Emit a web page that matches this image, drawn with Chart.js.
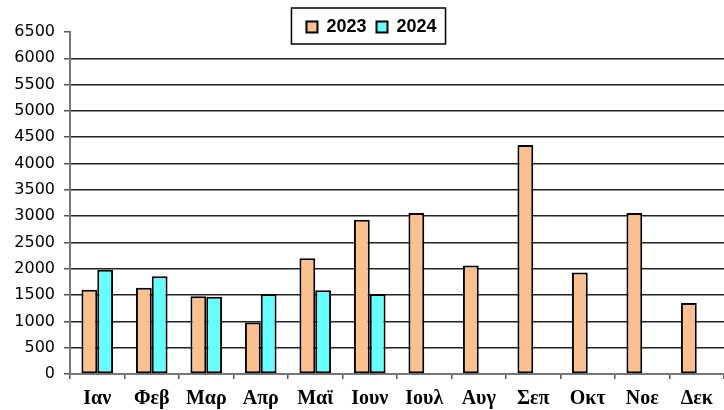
<!DOCTYPE html>
<html>
<head>
<meta charset="utf-8">
<script src="https://cdn.jsdelivr.net/npm/chart.js@4.4.1/dist/chart.umd.min.js"></script>
<style>
  html, body { margin: 0; padding: 0; background: #fff; }
  #wrap { width: 724px; height: 410px; position: relative; }
</style>
</head>
<body>
<div id="wrap"><canvas id="c"></canvas></div>
<script>
const months = ["Ιαν", "Φεβ", "Μαρ", "Απρ", "Μαϊ", "Ιουν", "Ιουλ", "Αυγ", "Σεπ", "Οκτ", "Νοε", "Δεκ"];
const values2023 = [1600, 1640, 1480, 980, 2200, 2930, 3060, 2060, 4350, 1930, 3060, 1350];
const values2024 = [1980, 1860, 1470, 1520, 1590, 1520, null, null, null, null, null, null];
const seriesNames = ["2023", "2024"];
const yMin = 0, yMax = 6500, yStep = 500;

const legendFrame = {
  id: 'legendFrame',
  afterLayout(chart) {
    const lg = chart.legend;
    lg.left = 288; lg.right = 455;
    lg.top = 8; lg.bottom = 44;
  },
  afterDraw(chart) {
    const hb = chart.legend.legendHitBoxes;
    if (!hb || !hb.length) return;
    const first = hb[0], last = hb[hb.length - 1];
    const ctx = chart.ctx;
    ctx.save();
    ctx.strokeStyle = '#000';
    ctx.lineWidth = 1.5;
    ctx.strokeRect(first.left - 15, first.top - 10, (last.left + last.width + 9) - (first.left - 15), first.height + 18);
    ctx.restore();
  }
};

new Chart(document.getElementById('c'), {
  type: 'bar',
  data: {
    labels: months,
    datasets: [
      { label: seriesNames[0], data: values2023, backgroundColor: '#FAC090', borderColor: '#000', borderWidth: 2, borderSkipped: false },
      { label: seriesNames[1], data: values2024, backgroundColor: '#66FFFF', borderColor: '#000', borderWidth: 2, borderSkipped: false }
    ]
  },
  options: {
    responsive: true,
    maintainAspectRatio: false,
    animation: false,
    datasets: { bar: { categoryPercentage: 0.58, barPercentage: 1.0 } },
    layout: { padding: { top: 0, left: 0, right: 0, bottom: 0 } },
    plugins: {
      legend: {
        position: 'top',
        align: 'center',
        maxHeight: 32,
        labels: {
          boxWidth: 11, boxHeight: 11, padding: 10,
          color: '#000',
          font: { family: 'Liberation Sans, Arial', size: 18, weight: 'bold' }
        }
      },
      tooltip: { enabled: false }
    },
    scales: {
      x: {
        offset: true,
        afterFit(s) { s.height = 36; },
        grid: { display: true, drawOnChartArea: false, drawTicks: true, tickLength: 5, color: '#555', lineWidth: 1.5, offset: true },
        border: { display: true, color: '#777', width: 2 },
        ticks: { color: '#000', padding: 8, maxRotation: 0, autoSkip: false,
          font: { family: 'Liberation Serif, Times New Roman', size: 20, weight: 'bold' } }
      },
      y: {
        min: yMin, max: yMax,
        afterFit(s) { s.width = 70; },
        grid: {
          color: (c) => (c.tick && c.tick.value === yMax) ? 'rgba(0,0,0,0)' : '#222',
          tickColor: '#555',
          lineWidth: 1.5, drawTicks: true, tickLength: 6
        },
        border: { display: true, color: '#777', width: 2 },
        ticks: { stepSize: yStep, color: '#000', padding: 9,
          callback: (v) => String(v),
          font: { family: 'DejaVu Sans', size: 16 } }
      }
    }
  },
  plugins: [legendFrame]
});
</script>
</body>
</html>
